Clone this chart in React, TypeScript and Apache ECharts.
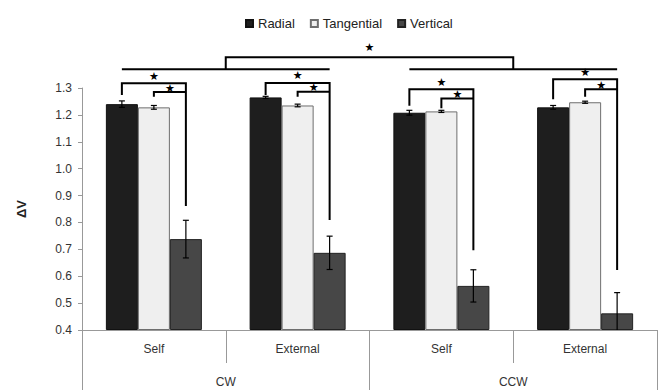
import React, { useEffect, useRef } from "react";
import * as echarts from "echarts";

const categories = ["Self", "External", "Self", "External"];
const directions = ["CW", "CCW"];
const seriesNames = ["Radial", "Tangential", "Vertical"];

const radial = [1.24, 1.265, 1.208, 1.228];
const radialErr = [0.012, 0.004, 0.009, 0.007];
const tangential = [1.228, 1.235, 1.213, 1.247];
const tangentialErr = [0.007, 0.005, 0.004, 0.004];
const vertical = [0.738, 0.687, 0.564, 0.462];
const verticalErr = [0.07, 0.062, 0.06, 0.077];

const yTicks = [0.4, 1.3, 0.1];

// significance brackets per category (data values on the y scale)
const outerLeftEnd = [1.274, 1.274, 1.234, 1.258];
const outerTop = [1.318, 1.319, 1.295, 1.333];
const innerLeftEnd = [1.267, 1.267, 1.225, 1.267];
const innerTop = [1.285, 1.286, 1.261, 1.295];
const rightEnd = [0.861, 0.809, 0.697, 0.623];

// group comparison bracket
const groupLevel = 1.37;
const linkLevel = 1.414;
const linkStarLevel = 1.452;

const BAR_W = 32;
const FONT = "'Liberation Sans', Arial, Helvetica, sans-serif";

export default function App() {
  const ref = useRef<HTMLDivElement>(null);

  useEffect(() => {
    if (!ref.current) return;
    const chart = echarts.init(ref.current, null, { renderer: "svg" });

    const values = [radial, tangential, vertical];
    const errs = [radialErr, tangentialErr, verticalErr];
    const fills = ["#1e1e1e", "#efefef", "#474747"];
    const borders = ["#111111", "#6e6e6e", "#222222"];

    const errData: number[][] = [];
    values.forEach((arr, s) => {
      arr.forEach((v, i) => {
        errData.push([i, v - errs[s][i], v + errs[s][i], s]);
      });
    });

    const bracketData = categories.map((_, i) => [
      i,
      outerLeftEnd[i],
      outerTop[i],
      innerLeftEnd[i],
      innerTop[i],
      rightEnd[i],
    ]);

    const star = (x: number, y: number) => ({
      type: "text",
      x,
      y,
      style: {
        text: "★",
        fill: "#000",
        fontSize: 11,
        fontFamily: "DejaVu Sans",
        align: "center",
        verticalAlign: "middle",
      },
    });

    const option: any = {
      animation: false,
      textStyle: { fontFamily: FONT },
      legend: {
        data: seriesNames,
        top: 12,
        left: 240,
        icon: "rect",
        itemWidth: 7,
        itemHeight: 7,
        itemGap: 15,
        textStyle: { fontSize: 13, color: "#222", fontFamily: FONT },
      },
      grid: { left: 82, right: 6, top: 88, bottom: 60, containLabel: false },
      xAxis: [
        {
          type: "category",
          data: categories,
          axisLine: { show: true, lineStyle: { color: "#999", width: 1 } },
          axisTick: {
            show: true,
            interval: 0,
            length: 33,
            lineStyle: { color: "#999" },
          },
          axisLabel: { interval: 0, margin: 13, fontSize: 12, color: "#333" },
          splitLine: { show: false },
        },
        {
          type: "category",
          data: directions,
          position: "bottom",
          axisLine: { show: false },
          axisTick: {
            show: true,
            interval: 0,
            length: 62,
            lineStyle: { color: "#999" },
          },
          axisLabel: { interval: 0, margin: 46, fontSize: 12, color: "#333" },
          splitLine: { show: false },
        },
      ],
      yAxis: {
        type: "value",
        min: yTicks[0],
        max: yTicks[1],
        interval: yTicks[2],
        startValue: yTicks[0],
        name: "ΔV",
        nameLocation: "middle",
        nameGap: 54,
        nameRotate: 90,
        nameTextStyle: { fontWeight: "bold", fontSize: 13, color: "#222" },
        axisLine: { show: true, lineStyle: { color: "#999" } },
        axisTick: { show: true, length: 4, lineStyle: { color: "#999" } },
        axisLabel: {
          margin: 10,
          fontSize: 12,
          color: "#333",
          formatter: (v: number) => v.toFixed(1),
        },
        splitLine: { show: false },
      },
      series: [
        ...seriesNames.map((name, s) => ({
          name,
          type: "bar",
          xAxisIndex: 0,
          yAxisIndex: 0,
          data: values[s],
          barWidth: BAR_W,
          barGap: "0%",
          itemStyle: { color: fills[s], borderColor: borders[s], borderWidth: 1 },
          emphasis: { disabled: true },
        })),
        {
          name: "err",
          type: "custom",
          xAxisIndex: 0,
          yAxisIndex: 0,
          clip: true,
          z: 5,
          silent: true,
          data: errData,
          encode: { x: 0, y: [1, 2] },
          renderItem: (params: any, api: any) => {
            const i = api.value(0);
            const lo = api.value(1);
            const hi = api.value(2);
            const s = api.value(3);
            const pTop = api.coord([i, hi]);
            const pBot = api.coord([i, lo]);
            const x = pTop[0] + (s - 1) * BAR_W;
            const st = { stroke: "#000", lineWidth: 1.2 };
            return {
              type: "group",
              children: [
                { type: "line", shape: { x1: x, y1: pTop[1], x2: x, y2: pBot[1] }, style: st },
                { type: "line", shape: { x1: x - 3, y1: pTop[1], x2: x + 3, y2: pTop[1] }, style: st },
                { type: "line", shape: { x1: x - 3, y1: pBot[1], x2: x + 3, y2: pBot[1] }, style: st },
              ],
            };
          },
        },
        {
          name: "brackets",
          type: "custom",
          xAxisIndex: 0,
          yAxisIndex: 0,
          clip: false,
          z: 6,
          silent: true,
          data: bracketData,
          encode: { x: 0, y: [1, 2, 3, 4, 5] },
          renderItem: (params: any, api: any) => {
            const i = api.value(0);
            const c = api.coord([i, api.value(2)]);
            const xR = c[0] - BAR_W;
            const xT = c[0];
            const xV = c[0] + BAR_W;
            const yOL = api.coord([i, api.value(1)])[1];
            const yOT = c[1];
            const yIL = api.coord([i, api.value(3)])[1];
            const yIT = api.coord([i, api.value(4)])[1];
            const yRE = api.coord([i, api.value(5)])[1];
            const st = { stroke: "#000", lineWidth: 2, fill: null };
            return {
              type: "group",
              children: [
                {
                  type: "polyline",
                  shape: { points: [[xR, yOL], [xR, yOT], [xV, yOT], [xV, yRE]] },
                  style: st,
                },
                {
                  type: "polyline",
                  shape: { points: [[xT, yIL], [xT, yIT], [xV, yIT]] },
                  style: st,
                },
                star((xR + xV) / 2, yOT - 7),
                star((xT + xV) / 2, yIT - 4),
              ],
            };
          },
        },
        {
          name: "groupBracket",
          type: "custom",
          xAxisIndex: 0,
          yAxisIndex: 0,
          clip: false,
          z: 6,
          silent: true,
          data: [[0, groupLevel, linkLevel, linkStarLevel]],
          encode: { x: 0, y: [1, 2, 3] },
          renderItem: (params: any, api: any) => {
            const g = api.value(1);
            const l = api.value(2);
            const sl = api.value(3);
            const c = [0, 1, 2, 3].map((k) => api.coord([k, g]));
            const yG = c[0][1];
            const yL = api.coord([0, l])[1];
            const yS = api.coord([0, sl])[1];
            const m01 = (c[0][0] + c[1][0]) / 2;
            const m23 = (c[2][0] + c[3][0]) / 2;
            const st = { stroke: "#000", lineWidth: 2, fill: null };
            return {
              type: "group",
              children: [
                {
                  type: "polyline",
                  shape: { points: [[c[0][0] - BAR_W, yG], [c[1][0] + BAR_W, yG]] },
                  style: st,
                },
                {
                  type: "polyline",
                  shape: { points: [[c[2][0] - BAR_W, yG], [c[3][0] + BAR_W, yG]] },
                  style: st,
                },
                {
                  type: "polyline",
                  shape: { points: [[m01, yG], [m01, yL], [m23, yL], [m23, yG]] },
                  style: st,
                },
                star((m01 + m23) / 2, yS),
              ],
            };
          },
        },
      ],
    };

    chart.setOption(option);
    return () => chart.dispose();
  }, []);

  return (
    <div
      ref={ref}
      style={{ position: "fixed", left: 0, top: 0, width: 663, height: 390, background: "#fff" }}
    />
  );
}
